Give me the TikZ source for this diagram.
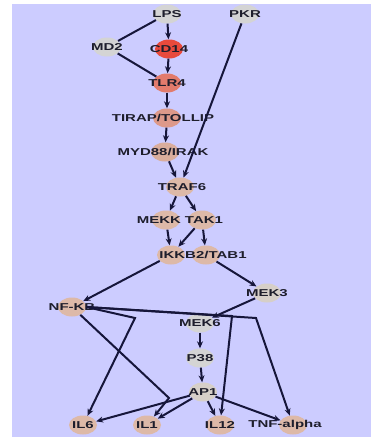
\documentclass[tikz,border=0pt]{standalone}
\usepackage{fontspec}
\setmainfont{Liberation Sans}
\usetikzlibrary{arrows.meta,shapes.geometric}
\definecolor{bgc}{HTML}{CCCCFF}
\definecolor{edgec}{HTML}{16163A}
\definecolor{txtc}{HTML}{1E1E2C}
\definecolor{cgrey}{HTML}{D4D4D4}
\definecolor{cgreyb}{HTML}{D6CFC8}
\definecolor{cbeige}{HTML}{DDB9A8}
\definecolor{cred}{HTML}{E84A3C}
\definecolor{csalmon}{HTML}{E27B6C}
\definecolor{ctirap}{HTML}{DD998A}
\definecolor{cmyd}{HTML}{D9AD9C}
\newcommand{\lbx}[1]{\scalebox{1.5}[1]{\fontsize{10}{10}\selectfont\bfseries #1}}
\tikzset{
  nd/.style={ellipse, fill=#1, draw=none, minimum width=28pt, minimum height=19pt, inner sep=0pt},
  lab/.style={text=txtc, inner sep=0pt},
  edge/.style={draw=edgec, line width=2pt},
  arr/.style={edge, -{Stealth[length=7pt,width=6pt]}}
}
\begin{document}
\begin{tikzpicture}[x=1pt,y=-1pt]
\useasboundingbox (0,0) rectangle (371,437);
\fill[bgc] (12,4) rectangle (371,437);
% nodes
\node[nd=cgrey] (lps) at (167,14) {};
\node[nd=cgrey] (pkr) at (245,14) {};
\node[nd=cgrey] (md2) at (107,47) {};
\node[nd=cred] (cd14) at (169,49) {};
\node[nd=csalmon] (tlr4) at (167,83) {};
\node[nd=ctirap] (tirap) at (167,118) {};
\node[nd=cmyd] (myd) at (165,152) {};
\node[nd=cbeige] (traf6) at (180,187) {};
\node[nd=cbeige] (mekk) at (166,220) {};
\node[nd=cbeige] (tak1) at (202,220) {};
\node[nd=cbeige] (ikkb2) at (171,255) {};
\node[nd=cbeige] (tab1) at (206,255) {};
\node[nd=cbeige] (nfkb) at (72,307) {};
\node[nd=cgreyb] (mek3) at (267,293) {};
\node[nd=cgrey] (mek6) at (200,323) {};
\node[nd=cgrey] (p38) at (200,358) {};
\node[nd=cgreyb] (ap1) at (203,392) {};
\node[nd=cbeige] (il6) at (83,425) {};
\node[nd=cbeige] (il1) at (147,425) {};
\node[nd=cbeige] (il12) at (220,425) {};
\node[nd=cbeige] (tnf) at (293,425) {};
% labels
\node[lab] (tlps) at (167,14) {\lbx{LPS}};
\node[lab] (tpkr) at (245,14) {\lbx{PKR}};
\node[lab] (tmd2) at (107,47) {\lbx{MD2}};
\node[lab] (tcd14) at (169,49) {\lbx{CD14}};
\node[lab] (ttlr4) at (167,83) {\lbx{TLR4}};
\node[lab] (ttirap) at (163,118) {\lbx{TIRAP/TOLLIP}};
\node[lab] (tmyd) at (163,152) {\lbx{MYD88/IRAK}};
\node[lab] (ttraf6) at (182,187) {\lbx{TRAF6}};
\node[lab] (tmekk) at (159,220) {\lbx{MEKK}};
\node[lab] (ttak1) at (204,220) {\lbx{TAK1}};
\node[lab] (tikkb) at (203,255) {\lbx{IKKB2/TAB1}};
\node[lab] (tnfkb) at (72,307) {\lbx{NF-KB}};
\node[lab] (tmek3) at (267,293) {\lbx{MEK3}};
\node[lab] (tmek6) at (200,323) {\lbx{MEK6}};
\node[lab] (tp38) at (200,358) {\lbx{P38}};
\node[lab] (tap1) at (203,392) {\lbx{AP1}};
\node[lab] (til6) at (83,425) {\lbx{IL6}};
\node[lab] (til1) at (147,425) {\lbx{IL1}};
\node[lab] (til12) at (220,425) {\lbx{IL12}};
\node[lab] (ttnf) at (285,425) {\lbx{TNF-alpha}};
% bend points
\coordinate (b6) at (135,318);
\coordinate (b1) at (169,398);
\coordinate (b12) at (232,316);
\coordinate (bt) at (256,318);
% edges
\draw[edge] (lps) -- (md2);
\draw[arr] (lps) -- (cd14);
\draw[edge] (md2) -- (tlr4);
\draw[arr] (cd14) -- (tlr4);
\draw[arr] (tlr4) -- (tirap);
\draw[arr] (tirap) -- (myd);
\draw[arr] (myd) -- (traf6);
\draw[arr] (pkr) -- (traf6);
\draw[arr] (traf6) -- (mekk);
\draw[arr] (traf6) -- (tak1);
\draw[arr] (mekk) -- (ikkb2);
\draw[arr] (tak1) -- (ikkb2);
\draw[arr] (tak1) -- (tab1);
\draw[arr] (ikkb2) -- (nfkb);
\draw[arr] (tab1) -- (mek3);
\draw[arr] (mek3) -- (mek6);
\draw[arr] (mek6) -- (p38);
\draw[arr] (p38) -- (ap1);
\draw[arr] (nfkb.east) -- (b6) -- (il6);
\draw[arr] (nfkb) -- (b1) -- (il1);
\draw[arr] (nfkb.east) -- (b12) -- (il12);
\draw[arr] (nfkb.east) -- (bt) -- (tnf);
\draw[arr] (ap1) -- (il6);
\draw[arr] (ap1) -- (il1);
\draw[arr] (ap1) -- (il12);
\draw[arr] (ap1) -- (tnf);
\end{tikzpicture}
\end{document}
